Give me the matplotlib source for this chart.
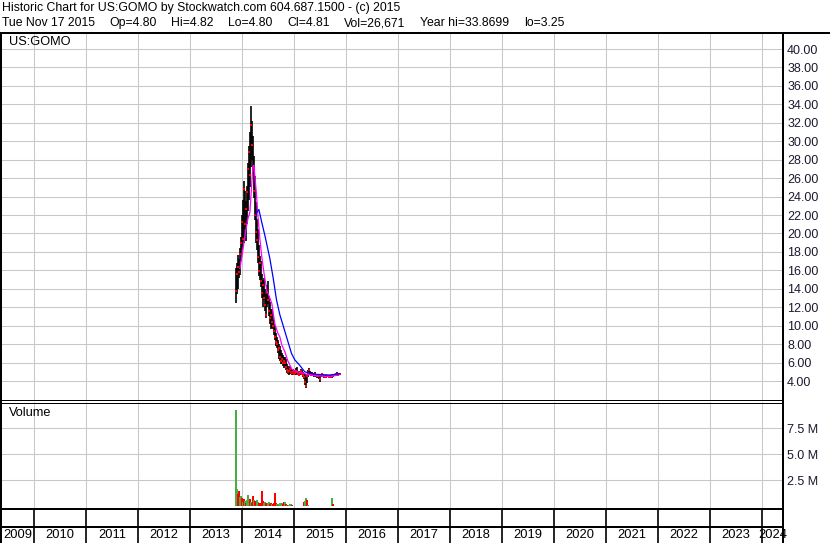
import matplotlib
matplotlib.use('Agg')
import matplotlib.pyplot as plt
import matplotlib.dates as mdates
from matplotlib.lines import Line2D
import numpy as np
import pandas as pd

plt.rcParams['font.family'] = ['Liberation Sans', 'DejaVu Sans']

# ---------------- data ----------------
title_line1 = "Historic Chart for US:GOMO by Stockwatch.com 604.687.1500 - (c) 2015"
title_fields = ["Tue Nov 17 2015", "Op=4.80", "Hi=4.82", "Lo=4.80", "Cl=4.81",
                "Vol=26,671", "Year hi=33.8699", "lo=3.25"]
symbol = "US:GOMO"
last_date = "2015-11-17"

week_low = [12.5, 13.4, 14.0, 15.2, 15.5, 17.0, 18.2, 18.6, 19.0, 20.5,
            19.2, 21.0, 22.4, 23.6, 25.0, 27.2, 28.0, 26.4, 23.8, 21.5,
            19.0, 18.2, 16.8, 15.4, 15.0, 14.2, 13.0, 12.0, 12.8, 11.6,
            10.8, 12.0, 12.4, 11.0, 10.2, 9.6, 9.8, 9.6, 9.0, 8.4,
            7.8, 7.6, 7.0, 6.4, 6.2, 5.8, 5.8, 5.6, 5.4, 5.6,
            5.2, 4.9, 4.8, 4.7, 4.8, 4.9, 4.7, 4.6, 4.7, 4.6,
            4.7, 4.8, 4.6, 4.5, 4.6, 4.7, 4.6, 4.4, 4.2, 3.6,
            3.25, 3.8, 4.4, 4.6, 4.6, 4.5, 4.6, 4.5, 4.4, 4.5,
            4.4, 4.3, 4.3, 4.2, 3.9, 4.4, 4.5, 4.4, 4.3, 4.3,
            4.3, 4.4, 4.4, 4.3, 4.3, 4.3, 4.3, 4.4, 4.5, 4.5,
            4.5, 4.6, 4.6, 4.7, 4.80]
week_high = [16.3, 16.8, 17.7, 17.2, 18.4, 19.6, 22.0, 23.6, 25.7, 24.6,
             23.5, 25.2, 27.6, 29.5, 31.0, 33.87, 32.2, 30.6, 28.4, 26.2,
             23.4, 21.6, 20.5, 18.8, 17.6, 17.0, 15.6, 15.0, 15.2, 14.0,
             13.4, 14.4, 14.8, 13.2, 12.6, 11.8, 11.8, 11.2, 10.6, 10.0,
             9.2, 8.8, 8.4, 8.0, 7.8, 7.4, 7.0, 6.8, 6.6, 6.6,
             6.4, 5.8, 5.6, 5.4, 5.6, 5.4, 5.2, 5.3, 5.2, 5.1,
             5.4, 5.5, 5.1, 5.0, 5.1, 5.3, 5.2, 5.0, 4.9, 4.8,
             4.4, 4.8, 5.2, 5.4, 5.1, 5.0, 5.0, 4.9, 4.9, 5.0,
             4.8, 4.8, 4.7, 4.7, 4.7, 4.8, 4.9, 4.8, 4.7, 4.6,
             4.6, 4.7, 4.6, 4.6, 4.5, 4.6, 4.6, 4.7, 4.8, 4.8,
             4.9, 5.0, 4.9, 4.9, 4.82]
week_close = [13.8, 15.6, 16.4, 15.8, 17.8, 19.0, 21.2, 19.4, 24.8, 21.0,
              22.6, 24.5, 27.0, 28.8, 26.3, 31.8, 29.6, 27.2, 24.6, 22.0,
              20.2, 19.3, 17.4, 15.9, 16.8, 14.8, 13.5, 14.4, 13.0, 12.2,
              11.2, 13.6, 12.8, 11.6, 10.8, 11.2, 10.4, 10.0, 9.4, 8.8,
              8.2, 8.0, 7.4, 7.6, 6.6, 6.2, 6.4, 5.9, 6.2, 5.9,
              5.5, 5.2, 5.0, 5.1, 5.3, 5.0, 4.9, 5.0, 4.8, 4.9,
              5.1, 5.0, 4.8, 4.7, 4.9, 5.1, 4.8, 4.6, 4.4, 3.9,
              3.5, 4.5, 4.9, 5.2, 4.8, 4.7, 4.8, 4.6, 4.7, 4.8,
              4.6, 4.5, 4.5, 4.6, 4.2, 4.6, 4.8, 4.6, 4.5, 4.4,
              4.4, 4.5, 4.5, 4.4, 4.4, 4.4, 4.5, 4.6, 4.7, 4.6,
              4.8, 4.8, 4.7, 4.8, 4.81]

# magenta (short) moving average, read at week positions
ma_short_week = [4, 6, 8, 10, 12, 14, 15.5, 17, 18, 19, 20.5, 22, 24, 26, 28,
                 31, 34, 36, 39, 42, 44, 46, 49, 52, 56, 60, 66, 72, 78, 84,
                 90, 96, 100, 104]
ma_short_val = [16.2, 17.5, 19.0, 20.4, 21.6, 22.3, 24.8, 27.2, 27.4, 26.2,
                24.4, 22.0, 19.4, 17.4, 15.8, 13.8, 13.0, 12.4, 10.2, 9.2,
                8.8, 7.9, 7.2, 6.2, 5.3, 5.0, 4.9, 4.7, 4.6, 4.55,
                4.5, 4.5, 4.6, 4.7]
# blue (long) moving average
ma_long_week = [19.7, 23, 25.7, 29, 34, 37.3, 40.7, 44, 45.7, 50.7, 55.7,
                59, 64, 69, 74, 77.3, 84, 94, 104]
ma_long_val = [22.1, 22.6, 21.3, 19.8, 17.3, 15.2, 12.8, 11.2, 10.6, 8.8,
               7.0, 6.3, 5.7, 5.0, 4.85, 4.75, 4.7, 4.65, 4.8]

# weekly volume in millions and up(1)/down(0) flag
week_volume = [9.3, 1.7, 1.2, 1.5, 0.9, 1.0, 0.8, 0.4, 0.7, 0.5,
               0.3, 0.6, 1.05, 0.5, 0.7, 0.4, 0.3, 1.0, 0.6, 0.5,
               0.3, 0.6, 0.4, 0.3, 0.2, 0.3, 1.5, 0.5, 0.3, 0.4,
               0.3, 0.2, 0.3, 0.4, 0.2, 0.3, 0.2, 0.2, 0.3, 1.3,
               0.3, 0.2, 0.15, 0.2, 0.3, 0.36, 0.3, 0.2, 0.42, 0.4,
               0.2, 0.15, 0.1, 0.1, 0.25, 0.2, 0.1, 0.05, 0.05, 0.05,
               0.05, 0.05, 0.0, 0.0, 0.0, 0.0, 0.0, 0.0, 0.42, 0.55,
               0.8, 0.6, 0.1, 0.05, 0.0, 0.0, 0.0, 0.0, 0.0, 0.0,
               0.05, 0.05, 0.05, 0.05, 0.05, 0.05, 0.0, 0.0, 0.0, 0.0,
               0.0, 0.05, 0.05, 0.05, 0.05, 0.0, 0.8, 0.2, 0.0, 0.0,
               0.0, 0.0, 0.0, 0.0, 0.03]
week_up = [1, 1, 0, 0, 1, 1, 0, 1, 0, 1,
           0, 1, 1, 1, 0, 1, 0, 0, 1, 0,
           0, 1, 1, 0, 0, 0, 0, 0, 1, 1,
           0, 0, 1, 1, 0, 0, 1, 0, 0, 0,
           0, 1, 0, 1, 1, 1, 1, 0, 0, 1,
           0, 1, 0, 1, 1, 1, 0, 0, 0, 0,
           0, 0, 0, 0, 0, 0, 0, 0, 0, 1,
           1, 0, 1, 0, 0, 0, 0, 0, 0, 0,
           0, 0, 0, 0, 0, 1, 0, 0, 0, 0,
           0, 0, 0, 0, 0, 0, 1, 0, 0, 0,
           0, 0, 0, 0, 1]

price_ticks = [4, 6, 8, 10, 12, 14, 16, 18, 20, 22, 24, 26, 28, 30, 32, 34,
               36, 38, 40]
volume_ticks = [2.5, 5.0, 7.5]
volume_tick_labels = ["2.5 M", "5.0 M", "7.5 M"]
years = list(range(2009, 2025))

# ---------------- layout helpers ----------------
W, H = 830, 543
fig = plt.figure(figsize=(W / 100, H / 100), dpi=100)
fig.patch.set_facecolor('white')


def rect(x0, y0, x1, y1):
    return [x0 / W, 1 - y1 / H, (x1 - x0) / W, (y1 - y0) / H]


def hline(y, x0, x1, lw=1.0):
    fig.add_artist(Line2D([x0 / W, x1 / W], [1 - y / H, 1 - y / H],
                          transform=fig.transFigure, color='black',
                          lw=lw * 0.72, solid_capstyle='butt'))


def vline(x, y0, y1, lw=1.0):
    fig.add_artist(Line2D([x / W, x / W], [1 - y0 / H, 1 - y1 / H],
                          transform=fig.transFigure, color='black',
                          lw=lw * 0.72, solid_capstyle='butt'))


dates = pd.date_range(end=last_date, periods=len(week_close), freq='7D')
xd = mdates.date2num(dates)
x0 = xd[0]
week = 7.0
xlim = (mdates.date2num(pd.Timestamp('2009-05-21')),
        mdates.date2num(pd.Timestamp('2024-05-27')))
year_starts = [mdates.date2num(pd.Timestamp(f'{y}-01-01')) for y in years]
grid_years = [v for v in year_starts if xlim[0] < v < xlim[1]]
grid_c = '#c8c8c8'
tick_c = '#1a1a30'

CL, CR = 2, 783

# ---------------- price panel ----------------
ax = fig.add_axes(rect(CL, 33, CR, 400))
ax.vlines(xd, week_low, week_high, color='black', lw=1.2, zorder=3)
ax.plot(xd + 2, week_close, 's', color='red', ms=1.6, mew=0, zorder=4)
ax.plot(x0 + np.array(ma_short_week) * week, ma_short_val,
        color='#ff00ff', lw=0.9, zorder=5)
ax.plot(x0 + np.array(ma_long_week) * week, ma_long_val,
        color='#0000ff', lw=0.9, zorder=5)
ax.set_yticks(price_ticks)
ax.set_yticklabels([f'{v:.2f}' for v in price_ticks])
ax.set_xticks(grid_years)
ax.set_xticklabels([])
ax.set_xlim(*xlim)
ax.set_ylim(1.94, 41.74)
ax.yaxis.tick_right()
ax.tick_params(axis='y', length=0, pad=3, labelsize=9, labelcolor=tick_c)
ax.tick_params(axis='x', length=0)
ax.grid(True, color=grid_c, lw=0.75)
ax.set_axisbelow(True)
for s in ax.spines.values():
    s.set_visible(False)
ax.text(7 / 781, 1 - 9 / 367, symbol, transform=ax.transAxes,
        fontsize=9.2, va='center', ha='left')

# ---------------- volume panel ----------------
av = fig.add_axes(rect(CL, 402, CR, 509))
vcolors = ['#44b044' if u else '#ff0000' for u in week_up]
av.bar(xd, week_volume, width=13, color=vcolors, lw=0, align='center',
       antialiased=False, zorder=3)
av.set_yticks(volume_ticks)
av.set_yticklabels(volume_tick_labels)
av.set_xticks(grid_years)
av.set_xticklabels([])
av.set_xlim(*xlim)
av.set_ylim(-0.26, 10.03)
av.yaxis.tick_right()
av.tick_params(axis='y', length=0, pad=3, labelsize=9, labelcolor=tick_c)
av.tick_params(axis='x', length=0)
av.grid(True, color=grid_c, lw=0.75)
av.set_axisbelow(True)
for s in av.spines.values():
    s.set_visible(False)
av.text(7 / 781, 1 - 11 / 107, "Volume", transform=av.transAxes,
        fontsize=9.2, va='center', ha='left')

# ---------------- date strip ----------------
at = fig.add_axes(rect(CL, 509, CR, 527))
for ys in grid_years:
    at.axvline(ys, color='black', lw=1.2)
at.set_xlim(*xlim)
at.set_ylim(0, 1)
at.axis('off')

al = fig.add_axes(rect(CL, 527, CR, 543))
for ys in grid_years:
    al.axvline(ys, color='black', lw=1.2)
for y, ys in zip(years, year_starts):
    lo = max(ys, xlim[0])
    hi = min(ys + 365.25, xlim[1])
    al.text((lo + hi) / 2, 0.5, str(y), ha='center', va='center',
            fontsize=9.3, clip_on=False)
al.set_xlim(*xlim)
al.set_ylim(0, 1)
al.axis('off')

# ---------------- borders ----------------
hline(33, 0, W, lw=2)
vline(1, 32, H, lw=2)
vline(CR, 32, H, lw=2)
hline(399.5, 0, CR, lw=1)
hline(402.5, 0, CR, lw=1)
hline(509, 0, CR, lw=2)
hline(527, 0, CR, lw=2)

# ---------------- header ----------------
fig.text(2 / W, 1 - 8 / H, title_line1, fontsize=8.8, va='center', ha='left')
renderer = fig.canvas.get_renderer()
gap_px = 14.5
cur = 2.0
for txt in title_fields:
    t = fig.text(cur / W, 1 - 23 / H, txt, fontsize=8.8, va='center',
                 ha='left')
    cur += t.get_window_extent(renderer).width + gap_px

fig.savefig('out.png', dpi=100, facecolor='white')
